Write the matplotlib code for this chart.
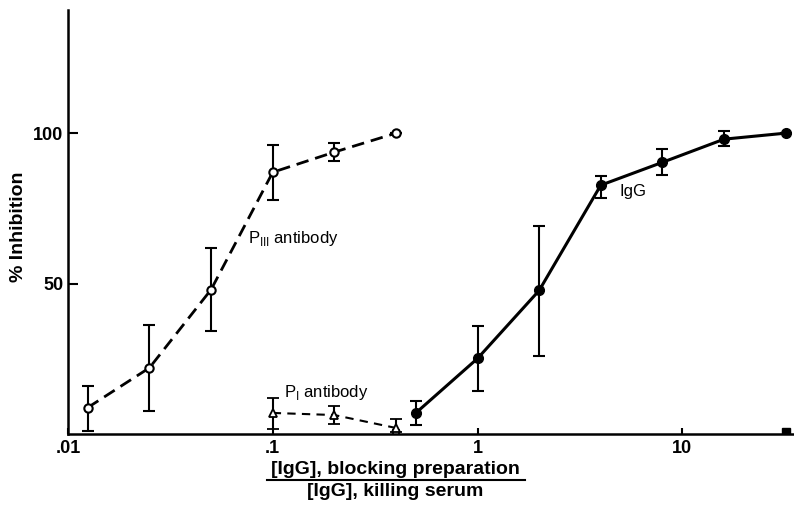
import matplotlib.pyplot as plt
import numpy as np

plt.rcParams['font.family'] = ['Liberation Sans', 'DejaVu Sans']
plt.rcParams['mathtext.fontset'] = 'custom'
plt.rcParams['mathtext.rm'] = 'Liberation Sans'

# P_III antibody (open circles, dashed)
p3_x = [0.0125, 0.025, 0.05, 0.1, 0.2, 0.4]
p3_y = [8.8, 22, 48, 87, 93.7, 100]
p3_lo = [1, 7.7, 34.3, 77.7, 90.8, 100]
p3_hi = [16, 36.3, 61.7, 96, 96.8, 100]

# P_I antibody (open triangles, dashed)
p1_x = [0.1, 0.2, 0.4]
p1_y = [7, 6.3, 2]
p1_lo = [1.7, 3.3, 0.5]
p1_hi = [12, 9.3, 5]

# IgG (filled circles, solid)
igg_x = [0.5, 1, 2, 4, 8, 16, 32]
igg_y = [7, 25.1, 47.7, 82.7, 90.3, 98, 100]
igg_lo = [3, 14.3, 25.8, 78.4, 86, 95.7, 100]
igg_hi = [11, 36, 69, 85.7, 94.7, 100.7, 100]

# single points near zero
sq_open = (0.4, 0.3)
sq_fill = (32, 0.5)

fig = plt.figure(figsize=(7.94, 5.05), dpi=100)
ax = fig.add_axes([0.0856, 0.1406, 0.914, 0.84])


def draw(ax, x, y, lo, hi, **kw):
    y = np.array(y)
    err = [y - np.array(lo), np.array(hi) - y]
    ax.errorbar(x, y, yerr=err, ecolor='black', elinewidth=1.5, capsize=4,
                capthick=1.5, color='black', **kw)


draw(ax, p3_x, p3_y, p3_lo, p3_hi, ls=(0, (4.5, 2.5)), lw=2, marker='o', ms=6,
     mfc='white', mec='black', mew=1.5)
draw(ax, p1_x, p1_y, p1_lo, p1_hi, ls=(0, (4, 3)), lw=1.5, marker='^', ms=6,
     mfc='white', mec='black', mew=1.3)
draw(ax, igg_x, igg_y, igg_lo, igg_hi, ls='-', lw=2.2, marker='o', ms=7,
     mfc='black', mec='black')
ax.plot(*sq_open, marker='s', ms=5, mfc='white', mec='black', mew=1.3)
ax.plot(*sq_fill, marker='s', ms=6, mfc='black', mec='black')

ax.set_xscale('log')
ax.set_xlim(0.01, 35)
ax.set_ylim(0, 141)
ax.set_xticks([0.01, 0.1, 1, 10])
ax.set_xticklabels(['.01', '.1', '1', '10'])
ax.xaxis.set_minor_locator(plt.NullLocator())
ax.set_yticks([50, 100])
ax.set_yticklabels(['50', '100'])
ax.tick_params(direction='in', length=7, width=1.5, labelsize=13)
ax.tick_params(axis='x', length=4, pad=4)
for lab in ax.get_xticklabels() + ax.get_yticklabels():
    lab.set_fontweight('bold')
for s in ['top', 'right']:
    ax.spines[s].set_visible(False)
for s in ['left', 'bottom']:
    ax.spines[s].set_linewidth(1.8)

fig.text(0.023, 1 - 227 / 505, '% Inhibition', fontsize=14, fontweight='bold',
         rotation=90, ha='center', va='center')

ax.text(0.0755, 65, r'P$_{\rm III}$ antibody', fontsize=12, va='center')
ax.text(0.113, 13.7, r'P$_{\rm I}$ antibody', fontsize=12, va='center')
ax.text(4.93, 80.7, 'IgG', fontsize=12, va='center')

# x label as a fraction
fig.text(395 / 794, 1 - 469 / 505, '[IgG], blocking preparation', fontsize=14,
         fontweight='bold', ha='center', va='center')
fig.add_artist(plt.Line2D([267 / 794, 525 / 794], [1 - 480 / 505, 1 - 480 / 505],
                          color='black', lw=1.5))
fig.text(395 / 794, 1 - 492 / 505, '[IgG], killing serum', fontsize=14,
         fontweight='bold', ha='center', va='center')

fig.savefig('out.png', dpi=100)
